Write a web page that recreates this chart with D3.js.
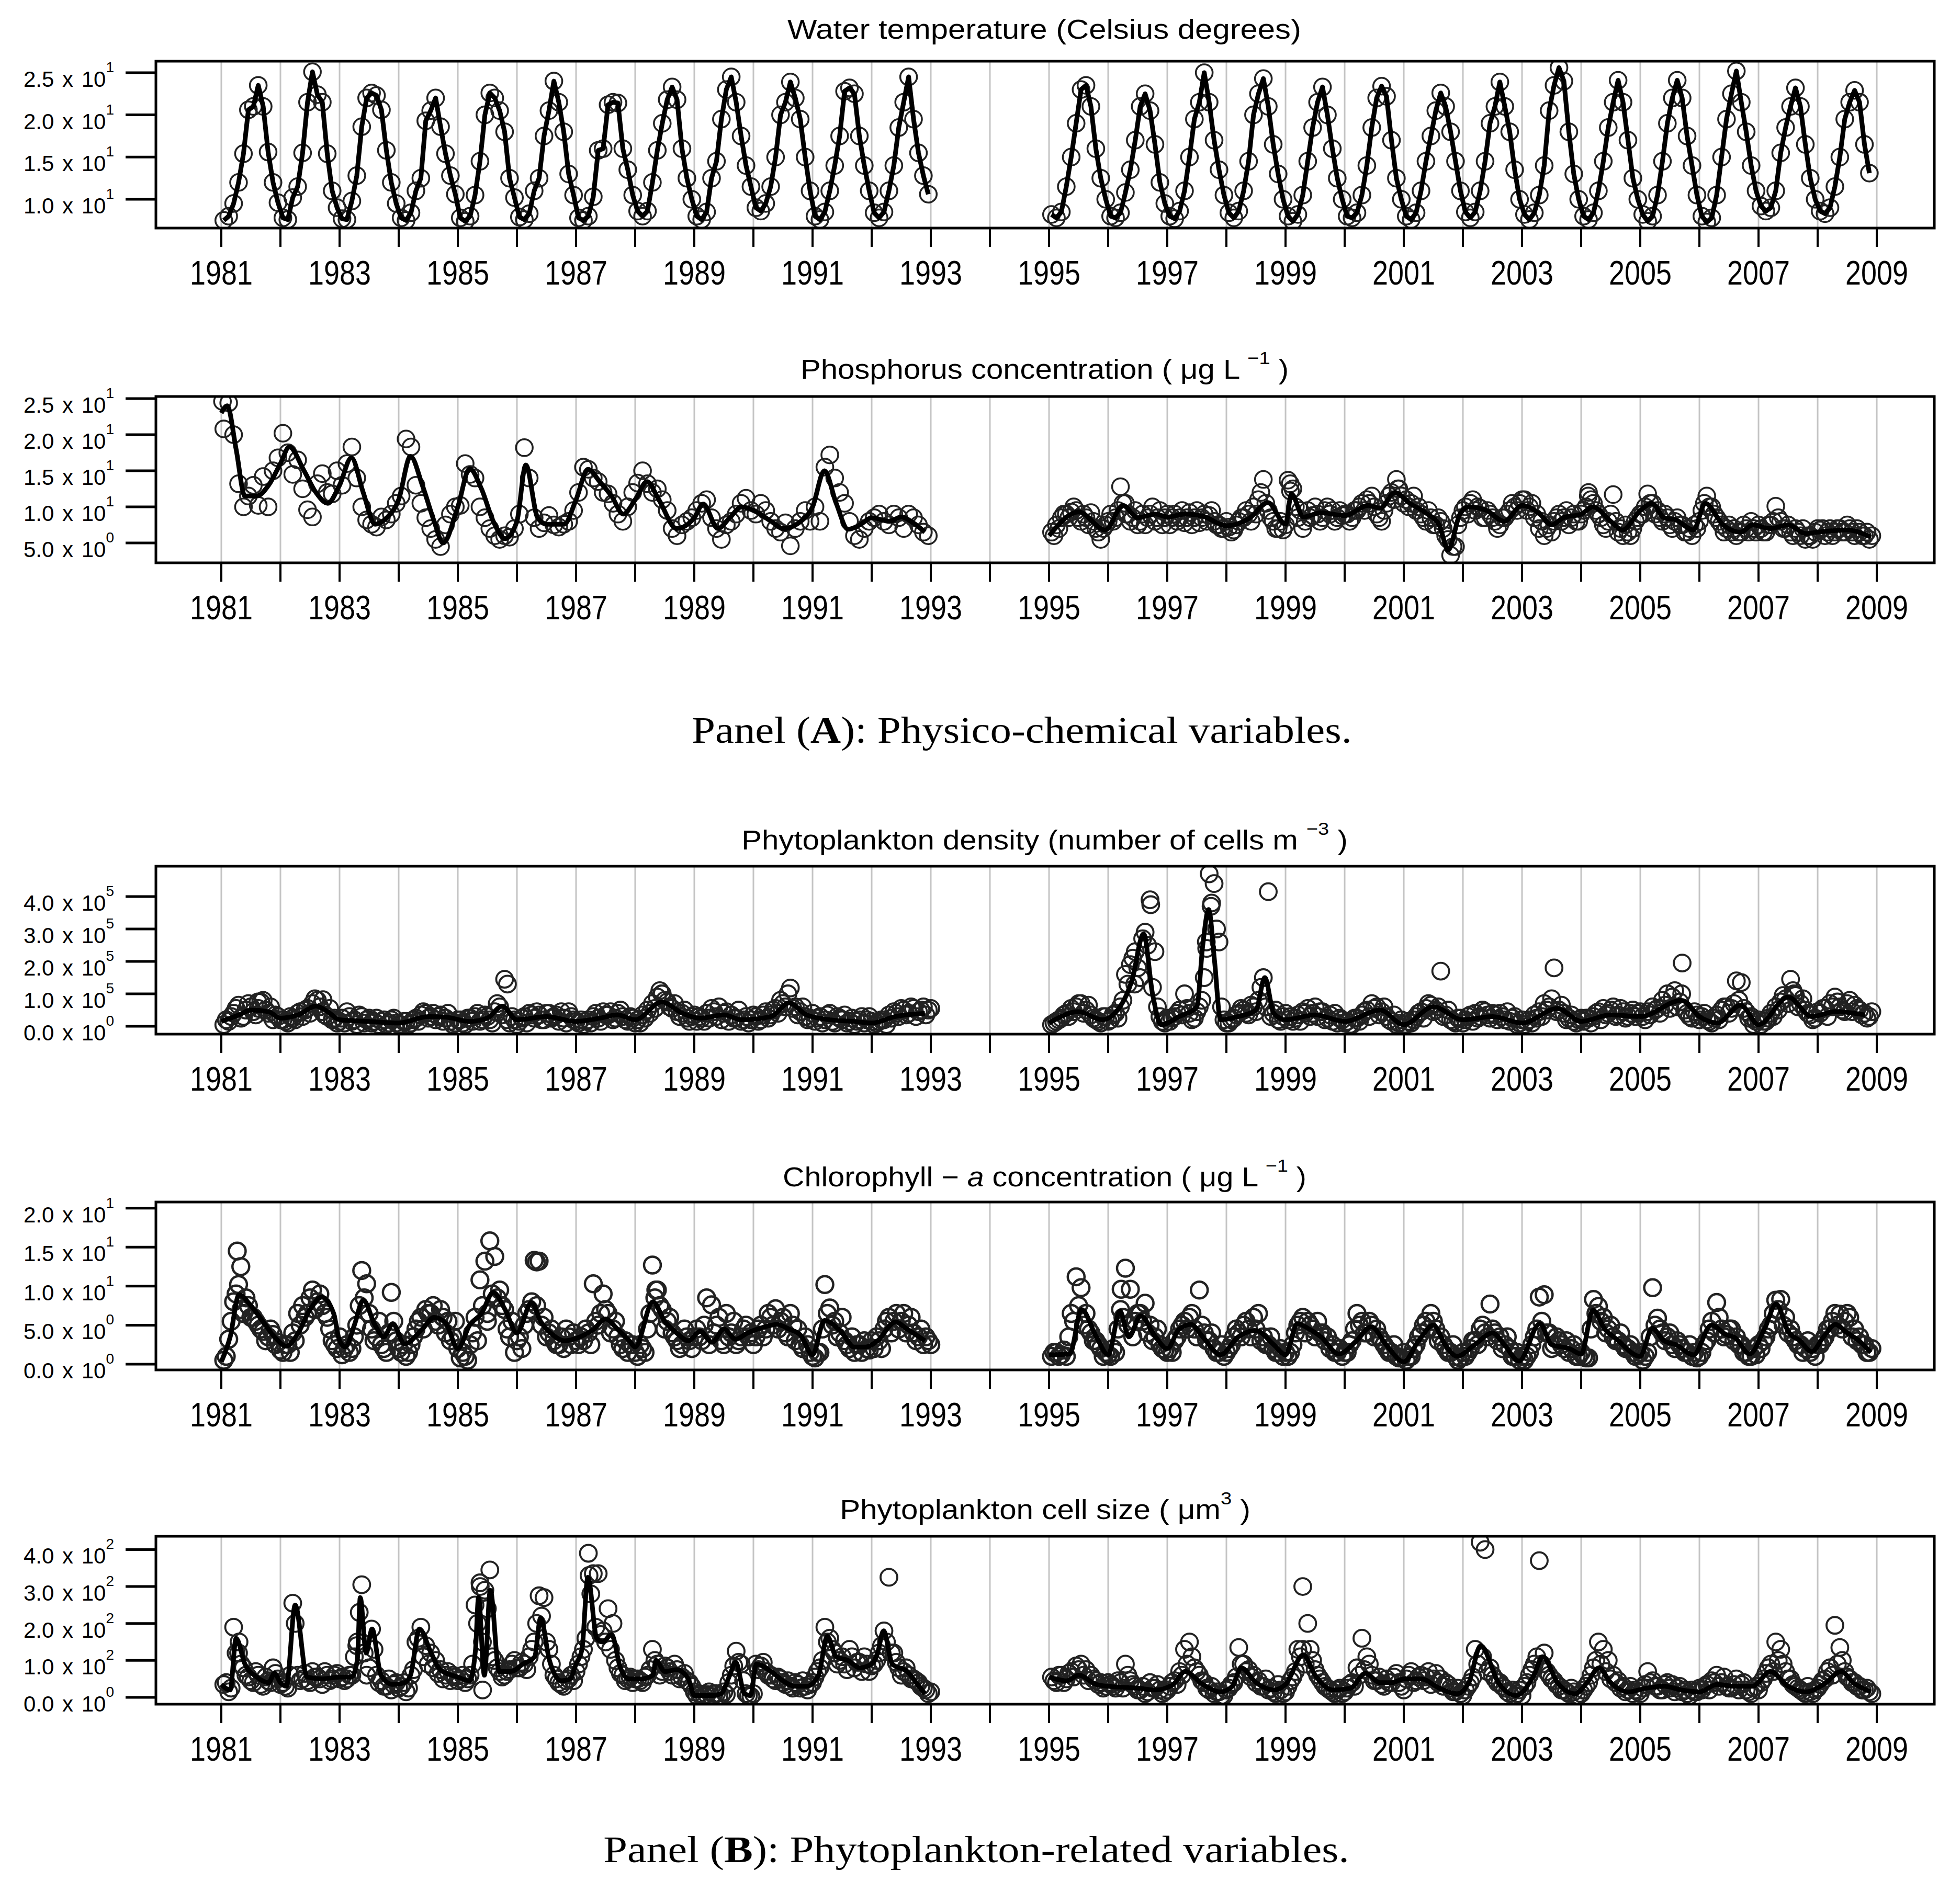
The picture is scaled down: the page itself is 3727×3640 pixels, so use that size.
<!DOCTYPE html>
<html>
<head>
<meta charset="utf-8">
<script src="https://cdn.jsdelivr.net/npm/d3@7"></script>
<style>
  body { margin: 0; background: #fff; }
  svg { display: block; }
</style>
</head>
<body>
<svg id="chart"></svg>
<script>
// ---------- axis values ----------
const yearTicks = [1981, 1982, 1983, 1984, 1985, 1986, 1987, 1988, 1989, 1990, 1991, 1992, 1993, 1994, 1995,
  1996, 1997, 1998, 1999, 2000, 2001, 2002, 2003, 2004, 2005, 2006, 2007, 2008, 2009];
const yearLabels = [1981, 1983, 1985, 1987, 1989, 1991, 1993, 1995, 1997, 1999, 2001, 2003, 2005, 2007, 2009];

const tempTicks = [10, 15, 20, 25];
const phosTicks = [5, 10, 15, 20, 25];
const densTicks = [0, 100, 200, 300, 400];   // thousands of cells
const chlTicks = [0, 5, 10, 15, 20];
const sizeTicks = [0, 100, 200, 300, 400];

// ---------- water temperature, monthly (Jan..Dec), 1981-1992 and 1995-2008 ----------
const tempA = [
  [7.5, 8.0, 9.5, 12.0, 15.4, 20.6, 21.0, 23.5, 21.0, 15.6, 12.0, 9.6],
  [7.8, 7.6, 10.2, 11.5, 15.5, 21.5, 25.1, 22.4, 21.5, 15.4, 11.0, 9.0],
  [7.7, 7.6, 9.8, 12.8, 18.6, 22.0, 22.6, 22.3, 20.6, 15.8, 12.0, 9.5],
  [7.8, 7.5, 8.4, 11.0, 12.5, 19.3, 20.5, 22.0, 18.6, 15.4, 12.8, 10.6],
  [7.8, 7.4, 8.0, 10.5, 14.5, 20.0, 22.6, 22.0, 20.5, 18.0, 12.5, 10.2],
  [7.9, 7.6, 8.3, 11.0, 12.5, 17.5, 20.5, 24.0, 21.5, 18.0, 13.0, 10.5],
  [7.8, 7.5, 8.0, 10.3, 15.8, 16.0, 21.2, 21.5, 21.4, 16.0, 13.5, 10.5],
  [8.6, 8.0, 8.6, 12.0, 15.8, 19.0, 21.8, 23.3, 21.8, 16.0, 12.5, 10.0],
  [8.0, 7.6, 8.5, 12.5, 14.5, 19.5, 23.0, 24.5, 21.5, 17.5, 14.0, 11.5],
  [9.0, 8.6, 9.5, 11.5, 15.0, 20.0, 21.5, 23.9, 22.0, 19.5, 15.0, 11.0],
  [8.0, 7.6, 8.5, 11.0, 14.0, 17.5, 22.8, 23.2, 22.5, 17.5, 14.0, 11.0],
  [8.4, 7.8, 8.5, 11.0, 14.0, 18.5, 21.5, 24.5, 19.5, 15.5, 12.8, 10.6]
];
const tempB = [
  [8.2, 7.8, 8.5, 11.5, 15.0, 19.0, 23.0, 23.5, 21.0, 16.0, 12.5, 10.0],
  [8.0, 7.8, 8.4, 10.8, 13.5, 17.0, 21.0, 22.5, 20.5, 16.5, 12.0, 9.5],
  [8.0, 7.7, 8.6, 11.0, 15.0, 19.5, 21.5, 25.0, 21.5, 17.0, 13.5, 10.5],
  [8.4, 7.8, 8.6, 11.0, 14.5, 20.0, 22.5, 24.3, 21.0, 16.5, 13.0, 10.0],
  [8.0, 7.4, 8.2, 10.5, 14.5, 18.5, 21.5, 23.3, 20.0, 16.0, 12.5, 10.0],
  [8.0, 7.8, 8.4, 10.5, 14.0, 18.5, 22.0, 23.4, 22.2, 17.0, 12.5, 10.0],
  [8.0, 7.6, 8.4, 11.0, 14.5, 17.5, 20.5, 22.6, 21.0, 18.0, 14.5, 11.0],
  [8.5, 7.8, 8.5, 11.0, 14.5, 19.0, 21.0, 23.9, 21.0, 18.0, 13.5, 10.0],
  [8.2, 7.6, 8.4, 10.5, 14.0, 20.5, 23.5, 25.6, 24.0, 18.0, 13.0, 10.0],
  [8.0, 7.6, 8.4, 11.0, 14.5, 18.5, 21.5, 24.1, 21.5, 17.0, 12.5, 10.0],
  [8.2, 7.4, 8.0, 10.5, 14.5, 19.0, 22.0, 24.1, 22.0, 17.5, 14.0, 10.5],
  [8.0, 7.3, 7.8, 10.5, 15.0, 19.5, 22.5, 25.2, 21.5, 18.0, 14.0, 11.0],
  [9.2, 8.6, 9.0, 11.0, 15.5, 18.5, 21.0, 23.2, 21.0, 16.5, 12.5, 10.0],
  [8.6, 8.3, 9.0, 11.5, 15.0, 19.5, 21.5, 22.9, 21.5, 16.5, 13.1]
];

// ---------- phosphorus ----------
const phosA = [
  [20.8, 24.4, 20.0, 13.2, 10.0, 11.5, 13.0, 10.2, 14.2, 10.0, 15.0, 16.8],
  [20.2, 17.5, 14.5, 16.5, 12.5, 9.6, 8.6, 13.2, 14.6, 12.0, 11.8, 15.0],
  [13.0, 16.0, 18.3, 14.0, 10.0, 8.2, 7.6, 7.2, 8.6, 8.2, 9.0, 10.5],
  [11.5, 19.4, 18.3, 13.0, 10.5, 8.5, 7.0, 5.5, 4.5, 7.5, 9.0, 10.0],
  [10.2, 16.0, 14.5, 14.0, 10.0, 8.5, 7.0, 6.0, 5.5, 6.0, 5.8, 7.0],
  [9.0, 18.2, 14.0, 8.5, 7.0, 7.8, 8.8, 7.5, 7.2, 7.6, 8.0, 9.5],
  [12.0, 15.5, 15.2, 14.0, 13.5, 12.0, 11.8, 10.5, 9.0, 8.0, 10.0, 12.0],
  [13.3, 15.0, 13.2, 12.0, 12.5, 11.0, 9.5, 7.0, 6.0, 7.5, 8.0, 8.5],
  [9.5, 10.5, 11.0, 8.5, 7.0, 5.5, 7.5, 8.0, 9.0, 10.5, 11.2, 9.5],
  [9.0, 10.5, 9.5, 8.0, 7.0, 6.5, 7.8, 4.6, 7.0, 8.0, 9.5, 8.0],
  [10.0, 8.0, 15.5, 17.2, 14.0, 12.0, 10.5, 8.0, 6.0, 5.5, 7.0, 8.0],
  [8.5, 9.0, 8.0, 7.5, 9.0, 8.5, 7.0, 9.0, 8.5, 7.5, 6.5, 6.0]
];
const phosB = [
  [6.5, 7.5, 8.5, 9.0, 9.3, 9.5, 8.0, 8.5, 9.2, 7.0, 5.5, 7.5],
  [9.0, 8.5, 12.8, 10.5, 8.0, 9.5, 8.0, 7.5, 9.0, 8.0, 9.5, 8.5],
  [7.5, 9.0, 8.5, 7.8, 9.2, 8.5, 7.8, 9.0, 8.8, 8.0, 7.5, 7.0],
  [7.2, 6.8, 8.0, 8.5, 9.0, 10.0, 11.0, 13.8, 9.5, 8.0, 7.0, 6.8],
  [13.7, 12.5, 8.5, 7.0, 9.5, 8.8, 9.0, 8.5, 10.0, 9.5, 8.5, 8.8],
  [9.0, 8.5, 9.5, 10.5, 11.0, 11.5, 9.0, 8.0, 10.5, 12.0, 13.8, 11.5],
  [11.0, 10.5, 9.5, 9.0, 8.0, 8.5, 7.5, 8.0, 6.0, 3.3, 4.5, 8.5],
  [10.0, 10.5, 9.5, 9.8, 8.5, 9.0, 8.0, 7.5, 8.5, 9.5, 10.0, 10.5],
  [11.0, 10.0, 8.5, 7.0, 6.0, 7.5, 8.0, 9.0, 8.5, 7.5, 9.0, 8.0],
  [9.5, 12.0, 10.5, 9.0, 7.5, 8.0, 11.7, 6.5, 6.0, 6.5, 7.0, 8.5],
  [9.0, 11.8, 10.5, 9.5, 8.0, 8.5, 7.0, 8.5, 7.5, 6.5, 6.0, 7.0],
  [9.5, 11.5, 10.0, 8.5, 7.5, 7.0, 6.5, 6.0, 6.5, 7.0, 8.0, 6.5],
  [7.0, 6.5, 7.5, 10.1, 8.0, 7.0, 6.5, 7.0, 6.0, 5.5, 6.0, 6.5],
  [6.8, 6.0, 7.0, 6.5, 7.0, 6.5, 7.0, 6.0, 6.5, 6.0, 5.5]
];
// second sample of each month, 1995-2008
const phosB2 = [
  [6.0, 7.0, 9.0, 8.5, 10.0, 8.5, 9.0, 7.5, 8.0, 6.5, 7.0, 8.0],
  [8.0, 9.5, 10.5, 9.0, 8.5, 7.5, 9.0, 8.5, 10.0, 8.5, 7.5, 9.0],
  [8.5, 8.0, 9.5, 8.5, 7.5, 9.5, 8.5, 8.0, 9.5, 7.5, 7.0, 8.0],
  [6.5, 7.5, 8.5, 9.5, 8.0, 9.0, 12.0, 10.5, 8.5, 7.0, 8.0, 7.5],
  [12.2, 10.0, 9.5, 8.0, 8.5, 10.0, 8.0, 9.5, 9.0, 8.0, 9.5, 9.0],
  [8.0, 9.5, 10.0, 9.5, 10.5, 10.0, 8.5, 9.5, 11.5, 11.0, 12.5, 10.5],
  [10.0, 11.5, 10.0, 8.5, 9.5, 7.5, 8.5, 7.0, 5.5, 4.5, 7.5, 9.5],
  [9.0, 11.0, 10.0, 8.5, 9.5, 8.5, 7.0, 8.5, 9.0, 10.5, 9.5, 11.0],
  [9.5, 10.5, 9.0, 8.0, 7.0, 6.5, 8.5, 8.0, 9.5, 8.5, 8.0, 9.0],
  [10.0, 11.0, 9.5, 8.5, 7.0, 9.0, 8.0, 7.0, 7.5, 6.0, 8.0, 9.0],
  [10.0, 10.5, 9.0, 8.5, 9.0, 7.5, 8.0, 7.5, 6.5, 7.0, 7.5, 8.0],
  [10.5, 10.0, 9.0, 8.0, 6.5, 7.5, 7.0, 6.5, 7.5, 6.5, 7.0, 7.5],
  [6.5, 7.5, 8.0, 8.5, 7.0, 7.5, 6.0, 6.5, 7.0, 6.0, 5.5, 7.0],
  [7.0, 6.5, 6.0, 7.0, 6.5, 7.5, 6.5, 7.0, 6.0, 6.5, 6.0]
];
const phosExtra = [[1981.02, 24.6], [1999.08, 13.2], [2004.12, 11.5], [1996.3, 9.0], [2000.9, 12.5]];
const phosLineA = [[1981.0, 23.0], [1981.1, 24.0], [1981.25, 18.0], [1981.4, 11.5], [1981.6, 11.5], [1981.8, 13.0],
  [1982.0, 16.0], [1982.15, 18.3], [1982.4, 15.0], [1982.6, 12.0], [1982.8, 10.5], [1983.0, 13.0], [1983.2, 16.8],
  [1983.4, 12.0], [1983.6, 7.6], [1983.8, 8.5], [1984.0, 11.0], [1984.2, 17.0], [1984.4, 13.0], [1984.6, 8.0],
  [1984.75, 5.0], [1985.0, 10.0], [1985.2, 15.3], [1985.4, 12.5], [1985.6, 8.0], [1985.8, 5.6], [1986.0, 8.0],
  [1986.15, 15.8], [1986.35, 8.5], [1986.5, 7.6], [1986.8, 7.6], [1987.0, 11.0], [1987.2, 15.2], [1987.4, 13.5],
  [1987.6, 11.5], [1987.8, 9.0], [1988.0, 11.0], [1988.2, 13.5], [1988.4, 11.0], [1988.7, 7.0], [1989.0, 8.5],
  [1989.15, 10.4], [1989.4, 7.0], [1989.6, 8.5], [1989.8, 10.0], [1990.0, 9.5], [1990.3, 8.0], [1990.5, 7.0],
  [1990.8, 8.0], [1991.0, 10.0], [1991.2, 15.0], [1991.4, 10.5], [1991.6, 6.9], [1991.8, 7.5], [1992.0, 8.5],
  [1992.3, 8.0], [1992.5, 8.6], [1992.7, 7.8], [1992.9, 6.5]];
const phosLineB = [[1995.0, 6.0], [1995.5, 9.3], [1995.95, 6.8], [1996.25, 10.2], [1996.5, 8.5], [1996.8, 9.0],
  [1997.0, 8.6], [1997.3, 9.0], [1997.6, 8.7], [1998.0, 7.4], [1998.4, 8.5], [1998.7, 10.6], [1999.0, 7.6],
  [1999.1, 11.8], [1999.3, 8.6], [1999.6, 9.2], [2000.0, 8.8], [2000.4, 10.2], [2000.6, 9.8], [2000.85, 12.0],
  [2001.1, 10.5], [2001.4, 9.0], [2001.6, 7.5], [2001.75, 4.0], [2001.95, 9.0], [2002.1, 10.0], [2002.4, 9.5],
  [2002.7, 8.0], [2003.0, 10.2], [2003.3, 9.0], [2003.5, 7.5], [2003.7, 8.5], [2004.0, 9.0], [2004.2, 10.0],
  [2004.5, 8.0], [2004.7, 6.8], [2005.0, 9.5], [2005.2, 10.5], [2005.4, 8.5], [2005.6, 8.2], [2005.9, 6.8],
  [2006.1, 10.5], [2006.4, 7.5], [2006.7, 6.5], [2006.9, 7.5], [2007.2, 7.0], [2007.5, 7.5], [2007.8, 6.3],
  [2008.0, 6.5], [2008.5, 6.8], [2008.9, 5.8]];

// ---------- phytoplankton density (thousands of cells) ----------
const densA = [
  [5, 15, 40, 65, 30, 70, 45, 55, 80, 40, 20, 30],
  [20, 10, 25, 40, 30, 55, 70, 80, 45, 30, 20, 10],
  [25, 45, 15, 5, 30, 20, 10, 25, 15, 5, 20, 10],
  [5, 15, 10, 25, 35, 40, 30, 20, 35, 25, 15, 10],
  [20, 5, 25, 30, 15, 35, 20, 45, 60, 145, 10, 20],
  [15, 30, 40, 25, 35, 20, 40, 30, 15, 25, 45, 20],
  [10, 5, 20, 30, 25, 45, 35, 20, 40, 30, 15, 25],
  [20, 35, 50, 70, 90, 100, 75, 55, 45, 40, 25, 30],
  [15, 25, 40, 55, 30, 20, 45, 35, 25, 15, 30, 20],
  [30, 20, 45, 35, 55, 80, 60, 118, 60, 45, 30, 25],
  [15, 30, 20, 40, 10, 25, 35, 15, 5, 20, 10, 30],
  [5, 15, 20, 35, 45, 30, 50, 40, 55, 45, 60, 50]
];
const densA2 = [
  [20, 30, 55, 25, 50, 60, 35, 75, 50, 60, 35, 20],
  [15, 30, 20, 45, 50, 40, 85, 60, 35, 55, 25, 15],
  [10, 30, 20, 35, 10, 25, 15, 5, 20, 10, 25, 5],
  [15, 5, 20, 15, 45, 25, 40, 30, 15, 40, 5, 20],
  [10, 25, 15, 40, 20, 30, 10, 70, 35, 20, 30, 5],
  [25, 10, 35, 45, 20, 40, 25, 35, 45, 10, 30, 15],
  [20, 15, 10, 40, 15, 35, 45, 25, 50, 20, 30, 10],
  [10, 25, 40, 55, 110, 80, 60, 70, 30, 50, 15, 35],
  [30, 15, 25, 45, 60, 40, 15, 25, 50, 20, 10, 35],
  [15, 35, 25, 50, 40, 70, 100, 55, 35, 60, 20, 40],
  [25, 10, 35, 15, 30, 20, 10, 25, 15, 30, 20, 15],
  [10, 20, 5, 25, 40, 55, 35, 60, 30, 50, 35, 55]
];
const densB = [
  [5, 15, 25, 40, 55, 60, 70, 50, 35, 20, 10, 30],
  [20, 40, 60, 160, 190, 230, 150, 290, 390, 230, 30, 10],
  [15, 30, 50, 100, 40, 25, 60, 150, 470, 440, 260, 20],
  [10, 25, 40, 50, 35, 60, 80, 150, 415, 40, 20, 30],
  [20, 15, 35, 45, 55, 40, 30, 45, 25, 15, 10, 20],
  [15, 5, 25, 35, 50, 70, 60, 45, 30, 15, 5, 20],
  [5, 10, 30, 45, 55, 65, 50, 170, 35, 20, 10, 25],
  [20, 35, 40, 30, 45, 25, 35, 40, 20, 15, 30, 10],
  [5, 20, 35, 45, 70, 60, 180, 50, 40, 25, 15, 20],
  [15, 25, 30, 45, 55, 40, 60, 35, 45, 30, 50, 40],
  [30, 45, 60, 55, 80, 100, 90, 60, 195, 40, 25, 35],
  [30, 20, 10, 35, 50, 60, 55, 140, 135, 45, 30, 15],
  [5, 15, 40, 60, 75, 85, 145, 95, 70, 50, 35, 25],
  [40, 55, 70, 90, 60, 45, 80, 65, 50, 40, 30]
];
const densB2 = [
  [10, 20, 35, 30, 45, 70, 40, 65, 25, 15, 30, 15],
  [35, 25, 80, 130, 210, 180, 270, 250, 120, 60, 15, 25],
  [25, 40, 35, 55, 20, 45, 80, 240, 380, 300, 60, 10],
  [20, 35, 55, 40, 65, 45, 120, 60, 30, 50, 15, 40],
  [30, 25, 15, 40, 30, 60, 45, 20, 35, 40, 25, 10],
  [5, 25, 15, 45, 30, 55, 35, 60, 20, 35, 10, 5],
  [15, 20, 40, 25, 70, 45, 60, 30, 50, 15, 25, 10],
  [30, 15, 25, 50, 35, 40, 20, 30, 45, 25, 5, 20],
  [15, 10, 25, 30, 50, 85, 45, 65, 20, 35, 10, 25],
  [25, 10, 40, 20, 35, 50, 30, 55, 25, 40, 30, 45],
  [20, 35, 50, 40, 65, 55, 110, 75, 50, 30, 45, 20],
  [40, 15, 25, 20, 60, 40, 70, 80, 55, 25, 5, 20],
  [15, 25, 30, 50, 95, 70, 110, 60, 85, 40, 20, 45],
  [55, 30, 60, 75, 50, 70, 45, 55, 35, 25, 45]
];
const densExtra = [[1985.84, 130], [1981.62, 75], [1982.72, 82], [1988.45, 100], [1996.72, 375],
  [1996.45, 130], [1997.74, 370], [1997.66, 260], [2005.7, 100], [2007.6, 100]];
const densLineA = [[1981.0, 15], [1981.3, 35], [1981.5, 50], [1981.8, 45], [1982.0, 25], [1982.3, 35], [1982.6, 62],
  [1982.8, 45], [1983.0, 20], [1983.5, 15], [1984.0, 10], [1984.5, 30], [1984.8, 28], [1985.2, 15], [1985.5, 25],
  [1985.75, 62], [1986.0, 20], [1986.5, 30], [1987.0, 15], [1987.4, 25], [1987.7, 35], [1988.0, 20], [1988.45, 75],
  [1988.8, 40], [1989.1, 25], [1989.5, 35], [1989.8, 20], [1990.3, 30], [1990.6, 72], [1990.9, 35], [1991.3, 20],
  [1991.7, 15], [1992.0, 10], [1992.4, 30], [1992.9, 40]];
const densLineB = [[1995.0, 10], [1995.5, 45], [1995.9, 20], [1996.2, 60], [1996.4, 140], [1996.6, 285],
  [1996.75, 100], [1996.9, 5], [1997.2, 30], [1997.5, 60], [1997.6, 250], [1997.7, 360], [1997.8, 200],
  [1997.9, 20], [1998.2, 30], [1998.5, 50], [1998.65, 150], [1998.8, 40], [1999.0, 20], [1999.5, 35],
  [2000.0, 15], [2000.6, 50], [2001.0, 5], [2001.5, 60], [2002.0, 20], [2002.5, 30], [2003.0, 10], [2003.6, 55],
  [2004.0, 15], [2004.5, 35], [2005.0, 30], [2005.7, 80], [2006.0, 30], [2006.3, 10], [2006.7, 65], [2007.0, 5],
  [2007.5, 90], [2007.9, 30], [2008.3, 45], [2008.8, 35]];

// ---------- chlorophyll-a ----------
const chlA = [
  [0.5, 3.2, 8.0, 10.2, 6.5, 7.5, 6.0, 5.0, 4.2, 3.5, 3.8, 2.8],
  [1.5, 2.5, 4.0, 6.5, 7.5, 6.5, 9.5, 8.0, 7.5, 6.0, 3.0, 2.0],
  [1.2, 2.5, 2.0, 5.0, 12.0, 10.3, 4.5, 3.5, 2.5, 1.5, 9.2, 3.0],
  [1.5, 1.0, 2.5, 4.5, 6.0, 7.0, 6.5, 5.5, 7.0, 4.0, 3.0, 5.5],
  [0.8, 1.0, 2.5, 6.0, 10.8, 13.2, 15.8, 13.8, 9.5, 7.0, 3.5, 1.5],
  [3.5, 5.0, 7.0, 13.3, 13.2, 6.0, 4.0, 3.0, 2.5, 2.0, 3.5, 4.0],
  [2.5, 3.0, 4.0, 10.3, 5.0, 9.0, 6.5, 4.5, 3.5, 2.0, 1.5, 2.5],
  [1.0, 2.0, 4.5, 12.7, 9.5, 7.0, 5.5, 4.0, 3.0, 2.5, 3.5, 2.0],
  [4.5, 3.0, 8.5, 7.6, 5.0, 3.0, 6.5, 4.0, 2.5, 3.5, 5.0, 4.0],
  [3.5, 5.0, 4.5, 6.0, 7.1, 5.5, 4.0, 6.5, 3.0, 2.5, 3.5, 1.5],
  [0.8, 1.5, 10.2, 7.2, 5.5, 4.0, 3.0, 2.0, 1.5, 2.5, 3.0, 1.8],
  [2.0, 3.0, 4.5, 6.0, 5.5, 4.5, 6.5, 5.0, 4.0, 3.5, 2.5, 3.0]
];
const chlA2 = [
  [1.0, 5.5, 9.0, 7.0, 8.5, 6.0, 5.5, 4.5, 3.0, 4.5, 2.5, 1.8],
  [2.5, 1.5, 3.0, 5.0, 6.0, 8.5, 7.0, 9.0, 6.5, 4.5, 2.5, 3.5],
  [2.0, 1.5, 3.5, 7.5, 8.5, 6.5, 3.0, 5.5, 2.0, 4.0, 5.5, 2.0],
  [2.5, 1.5, 3.5, 5.5, 4.5, 6.5, 7.5, 5.0, 6.0, 5.5, 3.5, 2.0],
  [1.5, 0.5, 4.0, 3.0, 7.5, 5.5, 9.0, 8.5, 7.5, 4.5, 5.5, 3.0],
  [2.0, 6.5, 8.0, 7.5, 5.0, 3.5, 4.5, 2.5, 3.5, 4.5, 2.5, 3.0],
  [3.5, 4.5, 2.5, 5.5, 6.5, 7.0, 4.0, 5.5, 2.5, 3.0, 2.5, 1.5],
  [2.5, 1.5, 6.5, 8.5, 7.5, 4.5, 6.0, 3.5, 2.0, 4.5, 3.0, 3.5],
  [3.5, 5.0, 2.5, 4.0, 6.0, 2.5, 3.5, 5.5, 3.0, 4.5, 3.5, 2.5],
  [4.5, 3.5, 6.5, 5.0, 4.5, 6.0, 3.5, 5.0, 4.5, 2.0, 2.5, 1.0],
  [1.5, 4.5, 6.5, 5.0, 3.5, 6.0, 2.5, 3.5, 2.5, 1.5, 2.0, 3.0],
  [3.5, 2.0, 5.5, 4.0, 6.5, 5.5, 4.0, 6.0, 3.0, 4.5, 3.5, 2.5]
];
const chlB = [
  [1.0, 1.5, 1.2, 1.0, 6.5, 11.2, 9.8, 6.5, 4.0, 3.0, 2.0, 1.5],
  [1.0, 1.5, 7.0, 12.3, 9.6, 5.5, 6.5, 7.8, 5.0, 3.5, 2.5, 1.8],
  [2.0, 3.0, 4.5, 5.5, 6.0, 4.5, 9.5, 4.0, 3.0, 2.0, 1.5, 1.0],
  [2.0, 3.5, 4.0, 5.0, 4.5, 6.0, 6.5, 3.5, 2.5, 2.0, 1.5, 1.0],
  [1.0, 2.5, 5.0, 6.0, 5.5, 4.5, 5.5, 4.0, 3.5, 2.5, 1.5, 1.0],
  [1.5, 3.0, 6.5, 5.5, 4.0, 5.0, 4.5, 3.0, 2.0, 1.5, 1.0, 0.8],
  [0.5, 1.0, 2.5, 4.0, 5.5, 6.5, 4.5, 3.5, 2.0, 1.5, 1.0, 0.8],
  [1.0, 2.0, 3.0, 4.5, 4.0, 7.7, 4.0, 3.5, 2.5, 2.0, 1.0, 0.5],
  [0.5, 1.5, 3.5, 8.6, 8.9, 4.0, 2.5, 3.0, 2.0, 1.5, 2.5, 1.0],
  [1.0, 0.8, 8.3, 7.4, 6.0, 4.5, 3.5, 3.0, 2.5, 2.0, 1.5, 1.2],
  [0.5, 1.5, 9.8, 5.9, 4.0, 3.5, 2.5, 3.0, 2.0, 1.5, 1.0, 0.8],
  [1.5, 3.0, 5.5, 7.9, 4.5, 3.8, 4.5, 3.5, 2.5, 1.5, 1.0, 1.2],
  [2.0, 3.5, 5.0, 8.2, 8.3, 6.0, 4.5, 3.0, 2.5, 2.0, 1.5, 1.0],
  [2.5, 3.5, 4.5, 6.5, 6.4, 5.5, 6.0, 4.5, 3.5, 2.5, 1.5]
];
const chlB2 = [
  [1.5, 1.0, 1.8, 3.5, 5.5, 7.5, 5.0, 4.5, 3.0, 2.5, 1.0, 1.2],
  [2.0, 4.5, 6.0, 5.0, 3.5, 6.5, 5.5, 4.0, 3.0, 4.5, 2.0, 1.5],
  [1.5, 3.5, 5.0, 4.5, 6.5, 3.5, 5.0, 3.0, 4.0, 1.5, 2.5, 1.5],
  [2.5, 4.5, 3.5, 5.5, 3.5, 4.5, 3.0, 2.5, 3.5, 1.5, 2.0, 1.5],
  [1.5, 4.0, 5.5, 4.0, 5.0, 3.5, 4.0, 3.0, 2.0, 1.5, 2.0, 1.5],
  [2.5, 4.5, 5.0, 4.0, 5.5, 3.5, 3.5, 2.5, 1.5, 2.5, 0.8, 1.5],
  [1.0, 2.0, 3.5, 5.0, 4.5, 5.5, 3.0, 2.5, 1.5, 2.5, 0.5, 1.5],
  [1.5, 3.0, 2.5, 5.0, 3.5, 4.5, 3.0, 2.0, 3.5, 1.0, 1.5, 1.0],
  [1.0, 2.5, 4.5, 5.5, 4.0, 2.0, 3.5, 2.5, 3.0, 2.0, 1.0, 1.5],
  [0.8, 4.5, 6.5, 5.5, 4.0, 5.0, 3.0, 4.0, 2.0, 2.5, 1.0, 1.5],
  [1.0, 3.5, 5.0, 4.5, 3.0, 4.0, 2.0, 2.5, 1.5, 2.5, 1.5, 1.0],
  [2.5, 4.5, 4.0, 6.0, 3.5, 4.5, 3.0, 2.5, 1.5, 1.0, 2.0, 2.5],
  [3.0, 4.5, 6.5, 7.0, 5.0, 4.0, 3.5, 2.5, 1.5, 3.0, 2.0, 2.5],
  [3.0, 4.5, 5.5, 5.0, 4.5, 6.5, 3.5, 3.0, 2.5, 1.5, 2.0]
];
const chlExtra = [[1981.27, 14.5], [1981.33, 12.5], [1986.33, 13.1], [1996.22, 9.6], [1985.5, 6.5], [1988.35, 9.5]];
const chlLineA = [[1981.0, 0.3], [1981.15, 3.5], [1981.3, 8.9], [1981.5, 7.5], [1981.7, 5.5], [1981.9, 3.5],
  [1982.1, 2.3], [1982.3, 4.0], [1982.5, 7.0], [1982.7, 8.6], [1982.9, 6.5], [1983.0, 3.0], [1983.1, 2.2],
  [1983.25, 5.0], [1983.4, 8.2], [1983.6, 5.0], [1983.75, 3.5], [1983.9, 5.2], [1984.1, 2.6], [1984.4, 4.5],
  [1984.6, 6.0], [1984.8, 5.2], [1985.0, 2.0], [1985.2, 5.0], [1985.4, 6.5], [1985.6, 9.2], [1985.8, 7.0],
  [1986.0, 4.0], [1986.25, 7.9], [1986.4, 5.5], [1986.6, 3.8], [1986.8, 3.0], [1987.0, 3.3], [1987.3, 4.5],
  [1987.5, 5.8], [1987.7, 4.5], [1987.9, 3.0], [1988.0, 2.2], [1988.3, 8.0], [1988.5, 5.5], [1988.7, 4.0],
  [1988.9, 3.0], [1989.1, 4.2], [1989.3, 2.8], [1989.5, 4.5], [1989.7, 3.2], [1989.9, 4.0], [1990.2, 4.8],
  [1990.4, 5.1], [1990.6, 4.5], [1990.8, 3.7], [1991.0, 1.2], [1991.2, 5.6], [1991.5, 4.0], [1991.7, 2.2],
  [1991.9, 2.2], [1992.1, 3.0], [1992.4, 5.4], [1992.6, 4.5], [1992.9, 3.0]];
const chlLineB = [[1995.0, 1.2], [1995.35, 1.3], [1995.55, 7.0], [1995.8, 3.5], [1996.0, 1.2], [1996.2, 6.8],
  [1996.35, 3.5], [1996.55, 6.2], [1996.8, 3.5], [1997.0, 2.0], [1997.2, 4.5], [1997.4, 5.1], [1997.6, 3.5],
  [1997.9, 1.2], [1998.2, 3.5], [1998.5, 4.3], [1998.8, 2.5], [1999.0, 1.2], [1999.2, 5.2], [1999.4, 4.5],
  [1999.6, 3.5], [1999.9, 1.3], [2000.2, 3.0], [2000.45, 4.8], [2000.7, 2.5], [2001.0, 0.3], [2001.25, 3.0],
  [2001.5, 5.0], [2001.7, 2.5], [2001.9, 1.0], [2002.2, 2.5], [2002.5, 4.0], [2002.7, 2.5], [2002.95, 0.4],
  [2003.3, 5.2], [2003.5, 2.5], [2003.8, 2.0], [2004.0, 1.3], [2004.2, 6.9], [2004.4, 4.5], [2004.6, 3.2],
  [2005.0, 1.0], [2005.2, 4.6], [2005.4, 3.0], [2005.6, 2.5], [2005.9, 1.2], [2006.2, 5.0], [2006.45, 3.8],
  [2006.6, 3.4], [2006.85, 1.3], [2007.1, 4.5], [2007.3, 7.7], [2007.5, 4.2], [2007.7, 3.0], [2007.9, 1.6],
  [2008.1, 3.5], [2008.3, 5.1], [2008.5, 4.0], [2008.7, 3.0], [2008.9, 1.5]];

// ---------- phytoplankton cell size ----------
const sizeA = [
  [35, 15, 190, 120, 80, 55, 40, 60, 30, 45, 80, 50],
  [40, 25, 255, 60, 50, 45, 70, 55, 35, 60, 50, 65],
  [55, 50, 60, 140, 305, 60, 185, 60, 45, 30, 20, 40],
  [30, 15, 60, 150, 190, 140, 120, 100, 75, 60, 45, 55],
  [50, 40, 60, 250, 310, 290, 345, 100, 70, 60, 75, 100],
  [80, 90, 110, 150, 275, 270, 130, 60, 40, 30, 50, 45],
  [90, 130, 390, 335, 335, 180, 240, 200, 80, 60, 50, 40],
  [50, 40, 60, 130, 90, 70, 80, 60, 75, 55, 45, 30],
  [5, 2, 8, 3, 10, 5, 8, 60, 125, 90, 10, 3],
  [90, 85, 70, 60, 45, 50, 35, 30, 40, 25, 30, 35],
  [55, 80, 190, 160, 120, 100, 90, 130, 80, 95, 110, 70],
  [90, 120, 180, 325, 120, 80, 70, 60, 50, 40, 25, 10]
];
const sizeA2 = [
  [40, 25, 120, 90, 60, 45, 70, 35, 55, 40, 65, 35],
  [30, 60, 200, 45, 65, 40, 55, 50, 70, 45, 60, 50],
  [45, 60, 110, 230, 120, 80, 130, 40, 30, 50, 35, 25],
  [40, 25, 75, 160, 110, 90, 80, 65, 50, 70, 60, 45],
  [60, 50, 90, 200, 150, 240, 110, 80, 55, 70, 90, 80],
  [95, 75, 130, 200, 220, 150, 90, 50, 35, 45, 60, 70],
  [110, 160, 280, 190, 170, 150, 130, 100, 65, 45, 55, 50],
  [45, 55, 75, 100, 60, 85, 70, 90, 50, 65, 40, 15],
  [10, 5, 15, 10, 5, 15, 40, 85, 95, 45, 5, 10],
  [75, 95, 60, 50, 55, 40, 45, 25, 35, 45, 20, 40],
  [70, 100, 150, 130, 90, 110, 75, 110, 95, 70, 90, 85],
  [100, 140, 150, 120, 95, 60, 80, 50, 45, 30, 20, 15]
];
const sizeB = [
  [55, 40, 60, 50, 70, 85, 90, 75, 60, 45, 40, 30],
  [35, 25, 40, 90, 45, 30, 20, 10, 40, 25, 20, 15],
  [30, 45, 70, 130, 150, 80, 60, 40, 20, 10, 15, 5],
  [25, 40, 135, 90, 75, 60, 45, 30, 20, 15, 35, 10],
  [30, 55, 130, 300, 200, 100, 60, 40, 25, 15, 20, 10],
  [25, 40, 80, 160, 110, 60, 45, 35, 50, 40, 65, 30],
  [50, 70, 45, 60, 55, 35, 65, 50, 40, 25, 15, 10],
  [20, 40, 130, 420, 400, 80, 50, 40, 25, 10, 5, 20],
  [30, 60, 90, 370, 120, 60, 45, 30, 20, 10, 15, 5],
  [20, 40, 80, 150, 130, 100, 60, 45, 30, 20, 10, 15],
  [25, 70, 45, 30, 20, 40, 35, 25, 15, 10, 20, 15],
  [20, 35, 45, 60, 40, 30, 25, 50, 35, 20, 10, 30],
  [40, 65, 90, 150, 130, 70, 50, 30, 20, 10, 15, 20],
  [35, 50, 80, 195, 135, 70, 50, 40, 30, 20, 15]
];
const sizeB2 = [
  [45, 60, 40, 65, 55, 75, 60, 45, 50, 35, 25, 40],
  [30, 45, 25, 60, 35, 20, 30, 15, 25, 35, 10, 20],
  [40, 35, 60, 90, 110, 70, 45, 25, 30, 15, 5, 20],
  [35, 55, 90, 70, 55, 40, 30, 50, 25, 10, 20, 15],
  [45, 70, 110, 90, 130, 75, 50, 30, 20, 10, 25, 15],
  [35, 30, 60, 75, 90, 45, 55, 30, 40, 55, 40, 20],
  [60, 40, 55, 45, 70, 50, 40, 30, 35, 15, 25, 5],
  [30, 55, 90, 110, 70, 60, 40, 30, 15, 20, 10, 5],
  [40, 75, 110, 90, 70, 50, 35, 20, 15, 25, 5, 10],
  [30, 60, 100, 90, 70, 50, 40, 25, 15, 30, 20, 10],
  [35, 40, 30, 20, 35, 25, 15, 30, 20, 5, 15, 25],
  [30, 20, 40, 30, 55, 25, 35, 20, 40, 15, 25, 20],
  [50, 80, 70, 100, 90, 50, 35, 25, 15, 30, 10, 25],
  [45, 70, 60, 90, 100, 55, 40, 30, 20, 25, 10]
];
const sizeExtra = [[1985.38, 300], [1987.22, 330], [1983.3, 150], [1999.29, 130], [1985.42, 20], [1981.3, 150]];
const sizeLineA = [[1981.0, 35], [1981.15, 20], [1981.25, 160], [1981.4, 90], [1981.6, 55], [1981.8, 40],
  [1981.9, 65], [1982.0, 40], [1982.1, 30], [1982.25, 250], [1982.45, 55], [1982.7, 50], [1983.0, 55],
  [1983.2, 55], [1983.3, 100], [1983.35, 270], [1983.45, 120], [1983.55, 185], [1983.7, 60], [1983.9, 35],
  [1984.1, 40], [1984.2, 60], [1984.35, 185], [1984.55, 120], [1984.7, 75], [1985.0, 55], [1985.2, 45],
  [1985.3, 130], [1985.35, 270], [1985.45, 60], [1985.55, 290], [1985.7, 70], [1985.9, 70], [1986.1, 90],
  [1986.3, 110], [1986.4, 215], [1986.55, 100], [1986.75, 45], [1986.9, 50], [1987.0, 90], [1987.1, 130],
  [1987.2, 325], [1987.35, 160], [1987.45, 150], [1987.6, 170], [1987.75, 80], [1987.9, 50], [1988.1, 50],
  [1988.3, 60], [1988.35, 100], [1988.5, 70], [1988.7, 75], [1988.9, 50], [1989.0, 5], [1989.3, 5],
  [1989.45, 10], [1989.6, 60], [1989.7, 95], [1989.85, 10], [1989.95, 5], [1990.05, 90], [1990.3, 70],
  [1990.5, 45], [1990.7, 30], [1990.9, 30], [1991.1, 60], [1991.25, 165], [1991.4, 110], [1991.6, 100],
  [1991.8, 80], [1992.0, 90], [1992.1, 120], [1992.2, 180], [1992.35, 90], [1992.6, 70], [1992.8, 30],
  [1992.9, 10]];
const sizeLineB = [[1995.0, 55], [1995.3, 45], [1995.5, 60], [1995.8, 35], [1996.0, 30], [1996.5, 25],
  [1996.8, 20], [1997.1, 35], [1997.3, 70], [1997.6, 35], [1997.9, 15], [1998.1, 30], [1998.25, 80],
  [1998.5, 40], [1998.8, 20], [1999.0, 35], [1999.3, 115], [1999.5, 60], [1999.8, 20], [2000.1, 25],
  [2000.35, 65], [2000.6, 40], [2000.8, 40], [2001.0, 50], [2001.3, 50], [2001.6, 25], [2001.9, 10],
  [2002.1, 40], [2002.3, 140], [2002.6, 40], [2002.9, 5], [2003.2, 60], [2003.35, 110], [2003.6, 40],
  [2003.9, 10], [2004.1, 40], [2004.3, 80], [2004.5, 40], [2004.8, 15], [2005.1, 25], [2005.4, 30],
  [2005.7, 20], [2006.0, 15], [2006.3, 35], [2006.6, 30], [2006.9, 30], [2007.2, 70], [2007.5, 30],
  [2007.8, 15], [2008.1, 35], [2008.4, 70], [2008.6, 40], [2008.9, 15]];

// ---------- helpers ----------
// monthly rows -> points; offset 0.5 = mid-month, 1 = end of month
function monthly(rows, startYear, offset = 0.5) {
  return rows.flatMap((row, i) => row.map((v, m) => ({ t: startYear + i + (m + offset) / 12, v })));
}
const pairs = arr => arr.map(d => ({ t: d[0], v: d[1] }));

const W = 3727, H = 3640;
const boxLeft = 298, boxRight = 3697;
const FONT = "'Liberation Sans', Arial, sans-serif";

const x = d3.scaleLinear().domain([1979.894, 2009.973]).range([boxLeft, boxRight]);

const panels = [
  {
    title: [{ s: "Water temperature (Celsius degrees)" }],
    titleX: [1505, 2487], titleY: 74,
    top: 117, bottom: 436, domain: [6.59, 26.36], ticks: tempTicks, unit: 1,
    points: [monthly(tempA, 1981), monthly(tempB, 1995)],
    lines: [monthly(tempA, 1981), monthly(tempB, 1995)],
    curve: d3.curveLinear, ring: 3.5
  },
  {
    title: [{ s: "Phosphorus concentration ( \u03BCg L " }, { s: "\u22121", sup: true }, { s: " )" }],
    titleX: [1530, 2463], titleY: 724,
    top: 758, bottom: 1076, domain: [2.25, 25.29], ticks: phosTicks, unit: 1,
    points: [monthly(phosA, 1981), monthly(phosB, 1995), monthly(phosB2, 1995, 1), pairs(phosExtra)],
    lines: [pairs(phosLineA), pairs(phosLineB)],
    curve: d3.curveMonotoneX, ring: 3.5
  },
  {
    title: [{ s: "Phytoplankton density (number of cells m " }, { s: "\u22123", sup: true }, { s: " )" }],
    titleX: [1417, 2576], titleY: 1624,
    top: 1656, bottom: 1977, domain: [-24.2, 493.5], ticks: densTicks, unit: 1000,
    points: [monthly(densA, 1981), monthly(densA2, 1981, 1), monthly(densB, 1995), monthly(densB2, 1995, 1),
      pairs(densExtra)],
    lines: [pairs(densLineA), pairs(densLineB)],
    curve: d3.curveMonotoneX, ring: 3.8
  },
  {
    title: [{ s: "Chlorophyll \u2212 " }, { s: "a", italic: true }, { s: " concentration ( \u03BCg L " },
      { s: "\u22121", sup: true }, { s: " )" }],
    titleX: [1496, 2497], titleY: 2268,
    top: 2298, bottom: 2619, domain: [-0.74, 20.78], ticks: chlTicks, unit: 1,
    points: [monthly(chlA, 1981), monthly(chlA2, 1981, 1), monthly(chlB, 1995), monthly(chlB2, 1995, 1),
      pairs(chlExtra)],
    lines: [pairs(chlLineA), pairs(chlLineB)],
    curve: d3.curveMonotoneX, ring: 4.5
  },
  {
    title: [{ s: "Phytoplankton cell size ( \u03BCm" }, { s: "3", sup: true }, { s: " )" }],
    titleX: [1605, 2390], titleY: 2904,
    top: 2937, bottom: 3258, domain: [-18.4, 436], ticks: sizeTicks, unit: 1,
    points: [monthly(sizeA, 1981), monthly(sizeA2, 1981, 1), monthly(sizeB, 1995), monthly(sizeB2, 1995, 1),
      pairs(sizeExtra)],
    lines: [pairs(sizeLineA), pairs(sizeLineB)],
    curve: d3.curveMonotoneX, ring: 3.8
  }
];

// scientific label "2.5 x 10^1"
function sciParts(v) {
  if (v === 0) return ["0.0", "0"];
  const e = Math.floor(Math.log10(v) + 1e-9);
  return [(v / Math.pow(10, e)).toFixed(1), String(e)];
}

// stretch a text horizontally so it spans [x0, x1]
function fitWidth(sel, x0, x1) {
  const cx = (x0 + x1) / 2;
  sel.attr("x", cx).attr("text-anchor", "middle");
  const bb = sel.node().getBBox();
  const s = (x1 - x0) / bb.width;
  sel.attr("transform", `translate(${cx},0) scale(${s},1) translate(${-cx},0)`);
}

const svg = d3.select("#chart")
  .attr("width", W)
  .attr("height", H)
  .attr("viewBox", [0, 0, W, H]);

svg.append("rect").attr("width", W).attr("height", H).attr("fill", "#fff");

const defs = svg.append("defs");

panels.forEach((p, i) => {
  const y = d3.scaleLinear().domain(p.domain).range([p.bottom, p.top]);
  const g = svg.append("g");

  defs.append("clipPath").attr("id", "clip" + i)
    .append("rect")
    .attr("x", boxLeft).attr("y", p.top)
    .attr("width", boxRight - boxLeft).attr("height", p.bottom - p.top);

  // grey year lines
  g.append("g")
    .attr("stroke", "#c4c4c4")
    .attr("stroke-width", 3)
    .selectAll("line")
    .data(yearTicks)
    .join("line")
    .attr("x1", d => x(d)).attr("x2", d => x(d))
    .attr("y1", p.top).attr("y2", p.bottom);

  const plot = g.append("g").attr("clip-path", `url(#clip${i})`);

  // open circles
  plot.append("g")
    .attr("fill", "none")
    .attr("stroke", "#222")
    .attr("stroke-width", p.ring)
    .selectAll("circle")
    .data(p.points.flat())
    .join("circle")
    .attr("cx", d => x(d.t))
    .attr("cy", d => y(d.v))
    .attr("r", 16);

  // thick fitted line, one piece per sampling period
  const line = d3.line().x(d => x(d.t)).y(d => y(d.v)).curve(p.curve);
  plot.append("g")
    .selectAll("path")
    .data(p.lines)
    .join("path")
    .attr("fill", "none")
    .attr("stroke", "#000")
    .attr("stroke-width", 9)
    .attr("stroke-linejoin", "round")
    .attr("d", line);

  // frame
  g.append("rect")
    .attr("x", boxLeft).attr("y", p.top)
    .attr("width", boxRight - boxLeft).attr("height", p.bottom - p.top)
    .attr("fill", "none")
    .attr("stroke", "#000")
    .attr("stroke-width", 5);

  // x ticks
  g.append("g")
    .attr("stroke", "#000")
    .attr("stroke-width", 4)
    .selectAll("line")
    .data(yearTicks)
    .join("line")
    .attr("x1", d => x(d)).attr("x2", d => x(d))
    .attr("y1", p.bottom).attr("y2", p.bottom + 36);

  g.append("g")
    .attr("font-family", FONT)
    .attr("font-size", 64)
    .attr("text-anchor", "middle")
    .selectAll("text")
    .data(yearLabels)
    .join("text")
    .attr("x", d => x(d))
    .attr("y", p.bottom + 108)
    .attr("textLength", 120)
    .attr("lengthAdjust", "spacingAndGlyphs")
    .text(d => d);

  // y ticks
  g.append("g")
    .attr("stroke", "#000")
    .attr("stroke-width", 5)
    .selectAll("line")
    .data(p.ticks)
    .join("line")
    .attr("x1", boxLeft - 58).attr("x2", boxLeft)
    .attr("y1", d => y(d)).attr("y2", d => y(d));

  const ylab = g.append("g")
    .attr("font-family", FONT)
    .attr("text-anchor", "end")
    .selectAll("text")
    .data(p.ticks)
    .join("text")
    .attr("x", 218)
    .attr("y", d => y(d) + 27)
    .attr("font-size", 42)
    .style("word-spacing", "4px");
  ylab.append("tspan").text(d => sciParts(d * p.unit)[0] + " x 10");
  ylab.append("tspan")
    .attr("font-size", 28)
    .attr("dy", -28)
    .text(d => sciParts(d * p.unit)[1]);

  // panel title
  const title = g.append("text")
    .attr("y", p.titleY)
    .attr("font-family", FONT)
    .attr("font-size", 52);
  let raised = false;
  p.title.forEach(part => {
    const ts = title.append("tspan").text(part.s);
    if (part.italic) ts.attr("font-style", "italic");
    if (part.sup) { ts.attr("font-size", 34).attr("dy", -28); raised = true; }
    else if (raised) { ts.attr("dy", 28); raised = false; }
  });
  fitWidth(title, p.titleX[0], p.titleX[1]);
});

// panel captions
const captions = [
  { lead: "Panel (", bold: "A", rest: "): Physico-chemical variables.", y: 1420, x0: 1322, x1: 2584 },
  { lead: "Panel (", bold: "B", rest: "): Phytoplankton-related variables.", y: 3560, x0: 1153, x1: 2579 }
];
captions.forEach(c => {
  const t = svg.append("text")
    .attr("y", c.y)
    .attr("font-family", "'Liberation Serif', 'Times New Roman', serif")
    .attr("font-size", 72);
  t.append("tspan").text(c.lead);
  t.append("tspan").attr("font-weight", "bold").text(c.bold);
  t.append("tspan").text(c.rest);
  fitWidth(t, c.x0, c.x1);
});
</script>
</body>
</html>
